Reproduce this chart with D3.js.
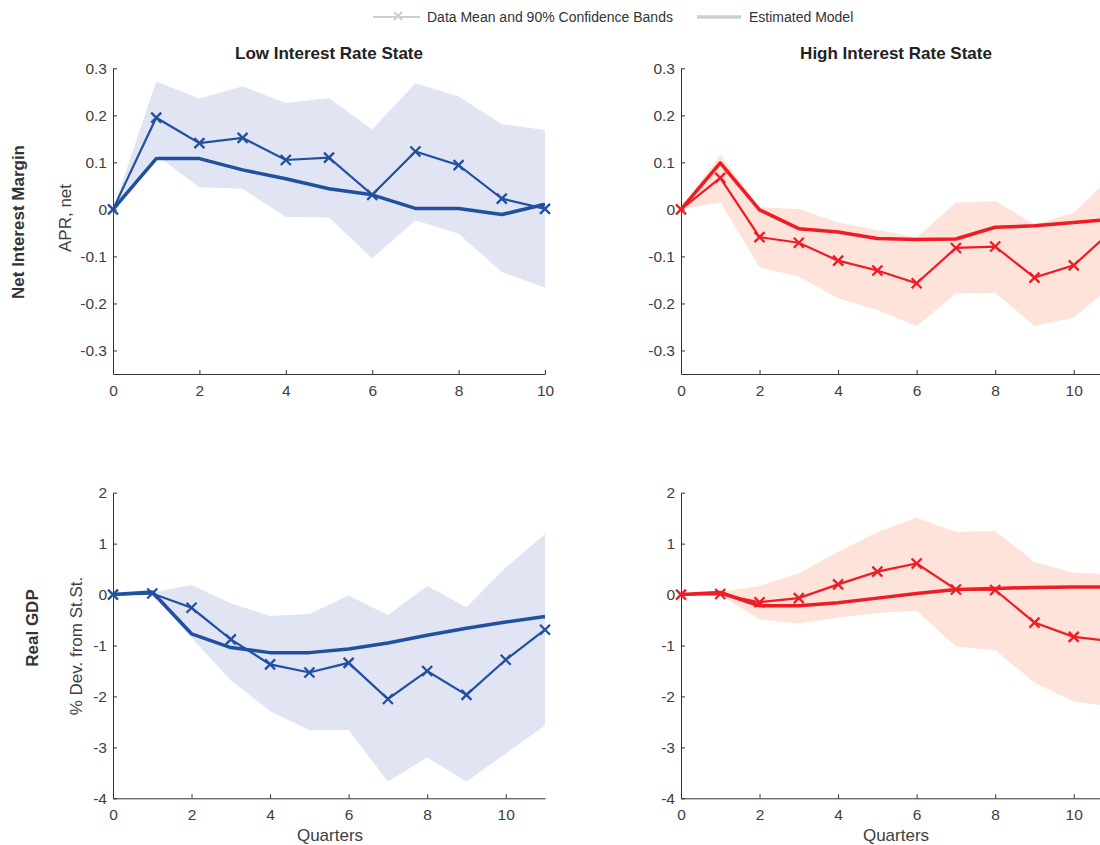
<!DOCTYPE html>
<html>
<head>
<meta charset="utf-8">
<script src="https://cdn.jsdelivr.net/npm/d3@7"></script>
<style>
  body { margin: 0; background: #fff; }
  svg { font-family: "Liberation Sans", Arial, sans-serif; display: block; }
  .axis path, .axis line { stroke: #333; }
  .axis text { fill: #404040; font-size: 15.5px; font-family: "Liberation Sans", Arial, sans-serif; }
</style>
</head>
<body>
<svg width="1100" height="845"></svg>
<script>
// quarters
const quartersLow = [0, 1, 2, 3, 4, 5, 6, 7, 8, 9, 10];
const quarters = [0, 1, 2, 3, 4, 5, 6, 7, 8, 9, 10, 11];

// Net interest margin, low rate state
const nimLowData = [0, 0.195, 0.141, 0.152, 0.105, 0.110, 0.031, 0.123, 0.094, 0.023, 0.001];
const nimLowModel = [0, 0.108, 0.108, 0.084, 0.065, 0.044, 0.031, 0.002, 0.002, -0.011, 0.011];
const nimLowUpper = [0, 0.272, 0.236, 0.262, 0.226, 0.237, 0.170, 0.268, 0.240, 0.181, 0.169];
const nimLowLower = [0, 0.115, 0.047, 0.044, -0.016, -0.017, -0.104, -0.023, -0.052, -0.133, -0.166];

// Net interest margin, high rate state
const nimHighData = [0, 0.067, -0.059, -0.071, -0.109, -0.130, -0.157, -0.082, -0.079, -0.145, -0.119, -0.043];
const nimHighModel = [0, 0.099, -0.001, -0.041, -0.048, -0.062, -0.064, -0.063, -0.038, -0.035, -0.028, -0.021];
const nimHighUpper = [0.003, 0.116, 0.004, 0.001, -0.028, -0.044, -0.060, 0.014, 0.018, -0.032, -0.007, 0.073];
const nimHighLower = [0, 0.015, -0.123, -0.143, -0.189, -0.214, -0.248, -0.179, -0.177, -0.248, -0.230, -0.161];

// Real GDP, low rate state
const gdpLowData = [0, 0.02, -0.26, -0.88, -1.37, -1.53, -1.34, -2.05, -1.50, -1.97, -1.28, -0.69];
const gdpLowModel = [0, 0.05, -0.77, -1.04, -1.14, -1.14, -1.07, -0.95, -0.80, -0.66, -0.54, -0.43];
const gdpLowUpper = [0, 0.04, 0.19, -0.17, -0.42, -0.38, -0.02, -0.40, 0.17, -0.25, 0.53, 1.19];
const gdpLowLower = [0, -0.01, -0.85, -1.68, -2.29, -2.66, -2.66, -3.67, -3.20, -3.67, -3.12, -2.57];

// Real GDP, high rate state
const gdpHighData = [0, 0.01, -0.15, -0.07, 0.20, 0.45, 0.61, 0.10, 0.09, -0.55, -0.83, -0.92];
const gdpHighModel = [0, 0.04, -0.22, -0.22, -0.16, -0.07, 0.02, 0.10, 0.12, 0.14, 0.15, 0.15];
const gdpHighUpper = [0, 0.05, 0.17, 0.42, 0.84, 1.23, 1.51, 1.23, 1.25, 0.64, 0.43, 0.40];
const gdpHighLower = [0, -0.01, -0.49, -0.57, -0.45, -0.36, -0.32, -1.02, -1.09, -1.73, -2.10, -2.20];

const nimTicks = [-0.3, -0.2, -0.1, 0, 0.1, 0.2, 0.3];
const gdpTicks = [-4, -3, -2, -1, 0, 1, 2];
const quarterTicks = [0, 2, 4, 6, 8, 10];

const blue = '#2150a0', blueBand = '#e0e4f3';
const red = '#ee1c25', redBand = '#fde3da';

const svg = d3.select('svg');

const panels = [
  { x: quartersLow, xMax: 10, data: nimLowData, model: nimLowModel, up: nimLowUpper, lo: nimLowLower,
    yDom: [-0.35, 0.3], yTicks: nimTicks, left: 113, top: 68.3, bottom: 374, color: blue, band: blueBand },
  { x: quarters, xMax: 11, data: nimHighData, model: nimHighModel, up: nimHighUpper, lo: nimHighLower,
    yDom: [-0.35, 0.3], yTicks: nimTicks, left: 681, top: 68.3, bottom: 374, color: red, band: redBand },
  { x: quarters, xMax: 11, data: gdpLowData, model: gdpLowModel, up: gdpLowUpper, lo: gdpLowLower,
    yDom: [-4, 2], yTicks: gdpTicks, left: 113, top: 492.7, bottom: 798.3, color: blue, band: blueBand },
  { x: quarters, xMax: 11, data: gdpHighData, model: gdpHighModel, up: gdpHighUpper, lo: gdpHighLower,
    yDom: [-4, 2], yTicks: gdpTicks, left: 681, top: 492.7, bottom: 798.3, color: red, band: redBand }
];

const plotWidth = 432;
const fmt = d => d === 0 ? '0' : (Number.isInteger(d) ? String(d) : d.toFixed(1));

panels.forEach(p => {
  const x = d3.scaleLinear().domain([0, p.xMax]).range([p.left, p.left + plotWidth]);
  const y = d3.scaleLinear().domain(p.yDom).range([p.bottom, p.top]);
  const g = svg.append('g');

  // confidence band
  const area = d3.area()
    .x((d, i) => x(p.x[i]))
    .y0((d, i) => y(p.lo[i]))
    .y1((d, i) => y(p.up[i]));
  g.append('path').datum(p.up).attr('d', area).attr('fill', p.band);

  // axes, ticks pointing inward
  g.append('g')
    .attr('class', 'axis')
    .attr('transform', `translate(0, ${p.bottom})`)
    .call(d3.axisBottom(x).tickValues(quarterTicks).tickSizeInner(-4).tickSizeOuter(0).tickPadding(11).tickFormat(fmt));
  g.append('g')
    .attr('class', 'axis')
    .attr('transform', `translate(${p.left}, 0)`)
    .call(d3.axisLeft(y).tickValues(p.yTicks).tickSizeInner(-4).tickSizeOuter(0).tickPadding(6).tickFormat(fmt));

  const line = d3.line().x((d, i) => x(p.x[i])).y(d => y(d));

  // estimated model
  g.append('path').datum(p.model).attr('d', line)
    .attr('fill', 'none').attr('stroke', p.color).attr('stroke-width', 3.5).attr('stroke-linejoin', 'round');

  // data mean
  g.append('path').datum(p.data).attr('d', line)
    .attr('fill', 'none').attr('stroke', p.color).attr('stroke-width', 2.2);

  const s = 5;
  g.selectAll('.mark')
    .data(p.data)
    .enter()
    .append('path')
    .attr('class', 'mark')
    .attr('d', (d, i) => {
      const cx = x(p.x[i]), cy = y(d);
      return `M${cx - s},${cy - s}L${cx + s},${cy + s}M${cx - s},${cy + s}L${cx + s},${cy - s}`;
    })
    .attr('stroke', p.color).attr('stroke-width', 2.3).attr('fill', 'none');
});

// titles
svg.append('text').attr('x', 329).attr('y', 59).attr('text-anchor', 'middle')
  .style('font-size', '17px').style('font-weight', 'bold').attr('fill', '#222').text('Low Interest Rate State');
svg.append('text').attr('x', 896).attr('y', 59).attr('text-anchor', 'middle')
  .style('font-size', '17px').style('font-weight', 'bold').attr('fill', '#222').text('High Interest Rate State');

// row labels
svg.append('text').attr('transform', 'translate(24, 222) rotate(-90)').attr('text-anchor', 'middle')
  .style('font-size', '17px').style('font-weight', 'bold').attr('fill', '#333').text('Net Interest Margin');
svg.append('text').attr('transform', 'translate(38, 628) rotate(-90)').attr('text-anchor', 'middle')
  .style('font-size', '17px').style('font-weight', 'bold').attr('fill', '#333').text('Real GDP');

// y axis labels
svg.append('text').attr('transform', 'translate(71, 218) rotate(-90)').attr('text-anchor', 'middle')
  .style('font-size', '17px').attr('fill', '#404040').text('APR, net');
svg.append('text').attr('transform', 'translate(82, 646) rotate(-90)').attr('text-anchor', 'middle')
  .style('font-size', '17px').attr('fill', '#404040').text('% Dev. from St.St.');

// x axis labels
svg.append('text').attr('x', 330).attr('y', 841).attr('text-anchor', 'middle')
  .style('font-size', '17px').attr('fill', '#404040').text('Quarters');
svg.append('text').attr('x', 896).attr('y', 841).attr('text-anchor', 'middle')
  .style('font-size', '17px').attr('fill', '#404040').text('Quarters');

// legend
const legendGray = '#cfcfcf';
const lg = svg.append('g');
lg.append('line').attr('x1', 373).attr('x2', 420).attr('y1', 17).attr('y2', 17)
  .attr('stroke', legendGray).attr('stroke-width', 2);
lg.append('path').attr('d', 'M394,12L402,20M394,20L402,12').attr('stroke', legendGray).attr('stroke-width', 2);
lg.append('text').attr('x', 427).attr('y', 22).style('font-size', '14px').attr('fill', '#333')
  .text('Data Mean and 90% Confidence Bands');
lg.append('line').attr('x1', 697).attr('x2', 741).attr('y1', 17).attr('y2', 17)
  .attr('stroke', legendGray).attr('stroke-width', 3.5);
lg.append('text').attr('x', 749).attr('y', 22).style('font-size', '14px').attr('fill', '#333')
  .text('Estimated Model');
</script>
</body>
</html>
